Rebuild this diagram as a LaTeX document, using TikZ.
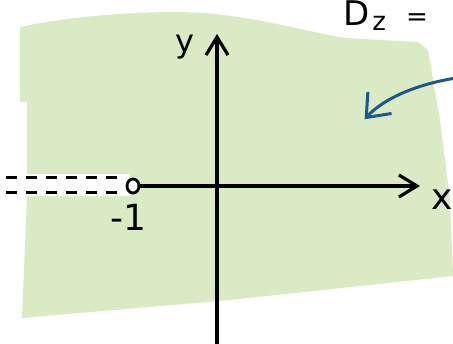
\documentclass[tikz,border=0pt]{standalone}
\usepackage{fontspec}
\setsansfont{DejaVu Sans}
\usetikzlibrary{arrows.meta,shapes.geometric}
\definecolor{regiongreen}{RGB}{217,234,196}
\definecolor{penblue}{RGB}{28,88,140}
\tikzset{
  axis/.style={line width=3.2pt, -{Straight Barb[length=18pt,width=22pt,line width=3.2pt]}},
  cut/.style={line width=3pt, dash pattern=on 11pt off 9pt},
  lbl/.style={font=\sffamily\fontsize{32}{32}\selectfont, inner sep=0pt}
}
\begin{document}
\begin{tikzpicture}[x=1pt,y=-1pt]
\useasboundingbox (0,0) rectangle (453,344);
% shaded region
\fill[regiongreen] (20,27) .. controls (80,14) and (160,10) .. (205,13)
  .. controls (260,18) and (300,30) .. (345,38)
  -- (418,42) -- (428,50) -- (440,120) -- (450,200) -- (453,276)
  -- (230,300) -- (22,318) -- (27,196) -- (130,196) -- (130,174) -- (27,174)
  -- (27,102) -- (20,102) -- cycle;
% axes
\coordinate (xstart) at (139,186);
\coordinate (xend) at (420,186);
\coordinate (ybot) at (217,344);
\coordinate (ytop) at (217,34);
\draw[axis] (xstart) -- (xend);
\draw[axis] (ybot) -- (ytop);
% hole at -1
\node[ellipse, draw, line width=2.8pt, fill=white, minimum width=12pt, minimum height=14pt, inner sep=0pt] (hole) at (133,186) {};
\coordinate (d1) at (6,178);
\coordinate (d2) at (6,193);
\draw[cut] (d1) -- (hole.west |- d1);
\draw[cut] (d2) -- (hole.west |- d2);
% labels
\node[lbl, font=\sffamily\fontsize{36}{36}\selectfont] (xl) at (442,200) {x};
\node[lbl] (yl) at (185,47) {y};
\node[lbl, font=\sffamily\fontsize{36}{36}\selectfont] (ml) at (128,217) {-1};
\node[anchor=base west, inner sep=0pt] (dz) at (343,26)
  {\sffamily{\fontsize{34}{34}\selectfont D}\hspace{3pt}\raisebox{-5pt}{\fontsize{26}{26}\selectfont z}\hspace{20pt}{\fontsize{26}{26}\selectfont =}};
% blue pointer
\coordinate (ptail) at (456,78);
\node[inner sep=0pt] (ptip) at (364,120) {};
\draw[penblue, line width=3pt, -{Straight Barb[length=20pt,width=32pt,line width=3pt]}] (ptail) .. controls (418,84) and (384,98) .. (ptip);
\end{tikzpicture}
\end{document}
